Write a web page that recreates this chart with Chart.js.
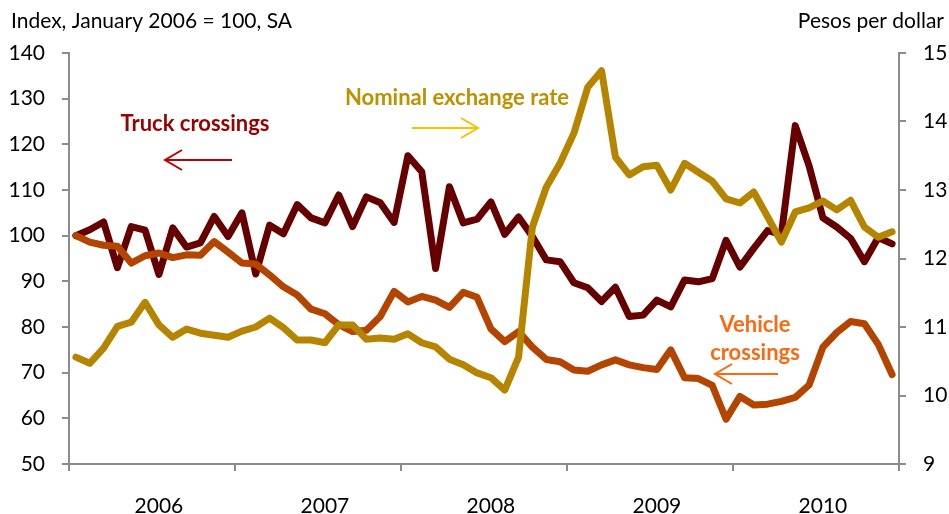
<!DOCTYPE html>
<html>
<head>
<meta charset="utf-8">
<script src="https://cdn.jsdelivr.net/npm/chart.js@4"></script>
<style>
	html, body { margin: 0; padding: 0; background: #fff; }
	#wrap { width: 949px; height: 514px; position: relative; }
</style>
</head>
<body>
<div id="wrap"><canvas id="chart"></canvas></div>
<script>
	// Monthly data, Jan 2006 .. Dec 2010
	var years = ["2006", "2007", "2008", "2009", "2010"]
	var truckCrossings = [
		100, 101.3, 103, 93, 102, 101.2, 91.5, 101.7, 97.5, 98.4,
		104.2, 99.8, 105, 91.6, 102.3, 100.4, 106.8, 103.9, 102.8, 108.9,
		102, 108.5, 107.2, 102.9, 117.5, 114, 92.8, 110.7, 102.8, 103.6,
		107.4, 100.3, 104.1, 99.8, 94.7, 94.3, 89.7, 88.6, 85.6, 88.7,
		82.3, 82.6, 85.9, 84.4, 90.3, 89.9, 90.6, 99, 93.1, 97.2,
		101.1, 100.3, 124.1, 115.3, 103.9, 101.9, 99.4, 94.3, 99.6, 98.2,
	]
	var vehicleCrossings = [
		100, 98.6, 97.9, 97.7, 94, 95.6, 96.2, 95.2, 95.8, 95.7,
		98.7, 96.4, 94, 93.8, 91.4, 88.8, 87, 83.9, 82.9, 80.5,
		79, 79.3, 82.3, 87.8, 85.5, 86.7, 85.9, 84.3, 87.6, 86.5,
		79.6, 76.8, 79, 75.6, 72.9, 72.4, 70.6, 70.3, 71.7, 72.8,
		71.7, 71.1, 70.7, 75, 68.9, 68.7, 67.2, 59.8, 64.8, 62.9,
		63.1, 63.7, 64.6, 67.3, 75.6, 78.8, 81.2, 80.7, 76.2, 69.6,
	]
	var exchangeRate = [
		10.56, 10.47, 10.69, 11.01, 11.07, 11.36, 11.03, 10.85, 10.97, 10.91,
		10.88, 10.85, 10.94, 11.0, 11.13, 10.99, 10.81, 10.81, 10.77, 11.03,
		11.03, 10.82, 10.84, 10.82, 10.9, 10.77, 10.71, 10.53, 10.45, 10.33,
		10.26, 10.08, 10.56, 12.46, 13.04, 13.39, 13.83, 14.5, 14.74, 13.48,
		13.22, 13.34, 13.36, 13.0, 13.39, 13.26, 13.13, 12.87, 12.81, 12.97,
		12.61, 12.24, 12.68, 12.74, 12.84, 12.71, 12.85, 12.46, 12.31, 12.39,
	]
	var leftTicks = [50, 140, 10]   // min, max, step
	var rightTicks = [9, 15, 1]

	var labels = []
	years.forEach(function (y) {
		for (var m = 0; m < 12; m++) labels.push(y + "-" + (m + 1))
	})

	var TRUCK = "#660000"
	var VEHICLE = "#B34500"
	var PESO = "#B58500"
	var AXIS = "#8C8C8C"
	var FONT = "Lato, 'DejaVu Sans', sans-serif"

	// Axis titles, series labels and arrows
	var notesPlugin = {
		id: "notes",
		afterDraw: function (chart) {
			var c = chart.ctx
			c.save()
			c.textBaseline = "alphabetic"
			c.font = "21px " + FONT
			c.fillStyle = "#000"
			c.textAlign = "left"
			c.fillText("Index, January 2006 = 100, SA", 11, 28)
			c.textAlign = "right"
			c.fillText("Pesos per dollar", 944, 28)

			c.font = "bold 22px " + FONT
			c.textAlign = "center"
			c.fillStyle = "#990000"
			c.fillText("Truck crossings", 195, 131)
			c.fillStyle = "#BF9000"
			c.fillText("Nominal exchange rate", 457, 105)
			c.fillStyle = "#F96A13"
			c.fillText("Vehicle", 755, 332)
			c.fillText("crossings", 755, 360)

			function arrow(x1, x2, y, color) {
				var d = x2 > x1 ? -1 : 1
				c.strokeStyle = color
				c.lineWidth = 2
				c.beginPath()
				c.moveTo(x1, y)
				c.lineTo(x2, y)
				c.moveTo(x2 + d * 17, y - 10)
				c.lineTo(x2, y)
				c.lineTo(x2 + d * 17, y + 10)
				c.stroke()
			}
			arrow(232, 165, 160, "#C00000")
			arrow(412, 478, 128, "#FFC000")
			arrow(778, 715, 374, "#F96A13")
			c.restore()
		},
	}

	var lineStyle = { borderWidth: 7, pointRadius: 0, tension: 0, borderJoinStyle: "round", borderCapStyle: "round", fill: false }

	new Chart(document.getElementById("chart"), {
		type: "line",
		data: {
			labels: labels,
			datasets: [
				Object.assign({ label: "Truck crossings", data: truckCrossings, borderColor: TRUCK, yAxisID: "y", order: 3 }, lineStyle),
				Object.assign({ label: "Vehicle crossings", data: vehicleCrossings, borderColor: VEHICLE, yAxisID: "y", order: 2 }, lineStyle),
				Object.assign({ label: "Nominal exchange rate", data: exchangeRate, borderColor: PESO, yAxisID: "y2", order: 1 }, lineStyle),
			],
		},
		plugins: [notesPlugin],
		options: {
			responsive: true,
			maintainAspectRatio: false,
			animation: false,
			layout: { padding: { top: 53, left: 0, right: 0, bottom: 0 } },
			plugins: { legend: { display: false }, tooltip: { enabled: false } },
			scales: {
				x: {
					offset: true,
					grid: {
						offset: true,
						drawOnChartArea: false,
						tickLength: 7,
						lineWidth: 2,
						color: function (ctx) {
							if (ctx.type === "tick" && ctx.index % 12 !== 0) return "rgba(0,0,0,0)"
							return AXIS
						},
					},
					border: { color: AXIS, width: 2 },
					ticks: {
						autoSkip: false,
						maxRotation: 0,
						padding: 23,
						color: "#000",
						font: { family: FONT, size: 21 },
						callback: function (v, i) {
							return i % 12 === 6 ? years[Math.floor(i / 12)] : ""
						},
					},
					afterFit: function (s) { s.height = 50 },
				},
				y: {
					position: "left",
					min: leftTicks[0],
					max: leftTicks[1],
					grid: { drawOnChartArea: false, tickLength: 7, lineWidth: 2, color: AXIS },
					border: { color: AXIS, width: 2 },
					ticks: { stepSize: leftTicks[2], padding: 17, color: "#000", font: { family: FONT, size: 21 } },
					afterFit: function (s) { s.width = 69 },
				},
				y2: {
					position: "right",
					min: rightTicks[0],
					max: rightTicks[1],
					grid: { drawOnChartArea: false, tickLength: 7, lineWidth: 2, color: AXIS },
					border: { color: AXIS, width: 2 },
					ticks: { stepSize: rightTicks[2], padding: 17, color: "#000", font: { family: FONT, size: 21 } },
					afterFit: function (s) { s.width = 50 },
				},
			},
		},
	})
</script>
</body>
</html>
